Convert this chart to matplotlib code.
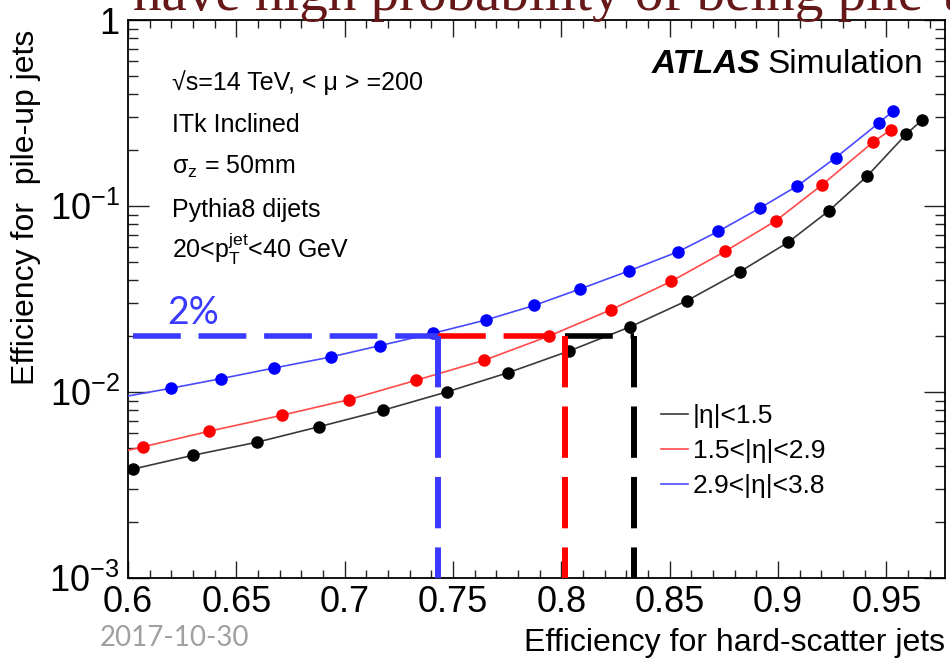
import numpy as np
import matplotlib
matplotlib.use("Agg")
import matplotlib.pyplot as plt
from matplotlib.ticker import MultipleLocator, FixedLocator, LogLocator, NullFormatter, FuncFormatter

plt.rcParams['font.family'] = ['Liberation Sans', 'DejaVu Sans']
plt.rcParams['mathtext.fontset'] = 'custom'
plt.rcParams['mathtext.rm'] = 'Liberation Sans'
plt.rcParams['mathtext.it'] = 'Liberation Sans:italic'
plt.rcParams['mathtext.bf'] = 'Liberation Sans:bold'
plt.rcParams['mathtext.default'] = 'regular'

# hard-scatter efficiency vs pile-up efficiency, one curve per eta region
eff_hs_central = [0.573, 0.6023, 0.630, 0.6595, 0.688, 0.7177, 0.747, 0.7754, 0.8035,
                  0.8317, 0.858, 0.8824, 0.9046, 0.9235, 0.941, 0.959, 0.9665]
eff_pu_central = [0.00322, 0.00385, 0.00457, 0.00537, 0.0065, 0.00798, 0.0100, 0.0127, 0.0166,
                  0.0224, 0.0310, 0.0444, 0.0638, 0.0944, 0.1445, 0.2425, 0.291]

eff_hs_mid = [0.577, 0.6071, 0.6374, 0.671, 0.702, 0.7329, 0.7643, 0.7943, 0.8229,
              0.8506, 0.8755, 0.899, 0.9203, 0.9437, 0.952]
eff_pu_mid = [0.00421, 0.00508, 0.00615, 0.0075, 0.0091, 0.01156, 0.0148, 0.0200, 0.0277,
              0.0393, 0.0570, 0.0834, 0.130, 0.220, 0.257]

eff_hs_fwd = [0.575, 0.6197, 0.6428, 0.6674, 0.6935, 0.7162, 0.7409, 0.7652, 0.7874,
              0.8086, 0.8312, 0.8537, 0.8724, 0.8916, 0.9089, 0.9266, 0.9464, 0.9529]
eff_pu_fwd = [0.00843, 0.01047, 0.01179, 0.01346, 0.01542, 0.01775, 0.0207, 0.0244, 0.0292,
              0.0358, 0.0448, 0.0567, 0.0731, 0.0975, 0.1283, 0.182, 0.279, 0.323]

labels = ['|η|<1.5', '1.5<|η|<2.9', '2.9<|η|<3.8']

# 2% pile-up working point and the hard-scatter efficiency it gives per region
pu_cut = 0.02
cut_start = 0.6023
wp_eff = [0.8335, 0.8017, 0.7431]   # central, mid, forward

fig = plt.figure(figsize=(9.5, 6.6), dpi=100)
ax = fig.add_axes([128 / 950, 82 / 660, 817 / 950, 558 / 660])

series = [
    (eff_hs_central, eff_pu_central, '#000000', '#3a3a3a'),
    (eff_hs_mid, eff_pu_mid, '#ff0000', '#ff4a4a'),
    (eff_hs_fwd, eff_pu_fwd, '#0000ff', '#4a4aff'),
]
for (xs, ys, mcol, lcol), lab in zip(series, labels):
    ax.plot(xs, ys, '-', color=lcol, lw=1.2, label=lab, zorder=3)
    ax.plot(xs, ys, 'o', color=mcol, ms=8, mec=mcol, zorder=4)

# working point lines
dash = (0, (8.6, 3.2))
blue_dash = '#3a3aff'
ax.plot([cut_start, wp_eff[2]], [pu_cut, pu_cut], color=blue_dash, lw=4, ls=dash, zorder=5)
ax.plot([wp_eff[2], wp_eff[1]], [pu_cut, pu_cut], color='#ff0000', lw=4, ls=dash, zorder=5)
ax.plot([wp_eff[1], wp_eff[0]], [pu_cut, pu_cut], color='#000000', lw=4, ls=dash, zorder=5)
for xv, col in zip(wp_eff, ['#000000', '#ff0000', blue_dash]):
    ax.plot([xv, xv], [pu_cut, 1e-3], color=col, lw=4.3, ls=dash, zorder=5)
ax.text(0.618, 0.0233, '2%', color=blue_dash, fontsize=27, family=['Lato', 'DejaVu Sans'],
        ha='left', va='baseline', zorder=6)

ax.set_xlim(0.6, 0.977)
ax.set_yscale('log')
ax.set_ylim(1e-3, 1)

ax.xaxis.set_major_locator(MultipleLocator(0.05))
ax.xaxis.set_minor_locator(MultipleLocator(0.01))
ax.xaxis.set_major_formatter(FuncFormatter(lambda v, p: '%g' % round(v, 3)))
ax.yaxis.set_major_locator(FixedLocator([1e-3, 1e-2, 1e-1, 1]))
ax.yaxis.set_major_formatter(FuncFormatter(
    lambda v, p: '1' if v >= 1 else '$10^{%d}$' % round(np.log10(v))))
ax.yaxis.set_minor_locator(LogLocator(base=10, subs=np.arange(2, 10)))
ax.yaxis.set_minor_formatter(NullFormatter())

ax.tick_params(which='both', direction='in', top=True, right=True, width=1, color='#222222')
ax.tick_params(axis='x', which='major', length=12, labelsize=26, pad=5)
ax.tick_params(axis='x', which='minor', length=6)
ax.tick_params(axis='y', which='major', length=15, labelsize=26, pad=6)
ax.tick_params(axis='y', which='minor', length=7.5)
for sp in ax.spines.values():
    sp.set_linewidth(1.3)

ax.set_xlabel('Efficiency for hard-scatter jets', fontsize=23, loc='right')
ax.xaxis.set_label_coords(1.0, -0.09)
ax.set_ylabel('Efficiency for  pile-up jets', fontsize=23, loc='top')
ax.yaxis.set_label_coords(-0.107, 0.982)

info = ['√s=14 TeV, < μ > =200', 'ITk Inclined', 'σ$_{z}$ = 50mm', 'Pythia8 dijets',
        '20<p$_{T}^{jet}$<40 GeV']
info_y = [0.8754, 0.7993, 0.7240, 0.6478, 0.5726]
for t, yy in zip(info, info_y):
    ax.text(0.0535, yy, t, transform=ax.transAxes, fontsize=18, va='baseline', ha='left')

sim = ax.text(0.973, 0.905, 'Simulation', transform=ax.transAxes, fontsize=24,
              ha='right', va='baseline')
fig.canvas.draw()
bb = sim.get_window_extent().transformed(ax.transAxes.inverted())
ax.text(bb.x0 - 0.008, 0.905, 'ATLAS', transform=ax.transAxes, fontsize=24,
        fontweight='bold', fontstyle='italic', ha='right', va='baseline')

ax.legend(loc='upper left', bbox_to_anchor=(0.652, 0.312), frameon=False, fontsize=19,
          handlelength=1.02, handletextpad=0.19, labelspacing=0.415, borderpad=0,
          borderaxespad=0)

# slide heading and date
fig.text(133 / 950, 1 - 10 / 660, 'have high probability of being pile-up', fontsize=41,
         family=['Liberation Serif', 'DejaVu Serif'], color='#661818', va='baseline', ha='left')
fig.text(100 / 950, 1 - 638 / 660, '2017-10-30', fontsize=20, color='#a0a0a0',
         family=['Lato', 'DejaVu Sans'], va='center', ha='left')

fig.savefig('out.png', dpi=100)
